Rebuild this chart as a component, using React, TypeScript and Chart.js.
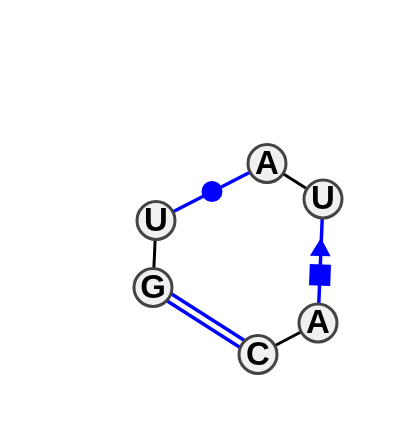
import React, { useEffect, useRef } from "react";
import { Chart, registerables } from "chart.js";

Chart.register(...registerables);

const nodeLabels = ["A", "U", "A", "C", "G", "U"];
const nodeX = [267, 323, 318, 258, 153, 156];
const nodeY = [163.5, 199, 323, 354.5, 287.5, 220.5];

// backbone pairs, indexes into the node lists
const backbonePairs = [
  [0, 1],
  [2, 3],
  [4, 5],
];

// blue interactions
const singleX = [156, 267];
const singleY = [220.5, 163.5];
const stackedX = [323, 318];
const stackedY = [199, 323];
const doubleUpperX = [156, 261];
const doubleUpperY = [284, 351];
const doubleLowerX = [150, 255];
const doubleLowerY = [290, 357];

const circleMark = [{ x: 212, y: 191.5 }];
const triangleMark = [{ x: 320.5, y: 250 }];
const squareMark = [{ x: 320, y: 275 }];

const BLUE = "#0000ff";

const toPoints = (xs: number[], ys: number[]) =>
  xs.map((x, i) => ({ x, y: ys[i] }));

const nodeText = {
  id: "nodeText",
  afterDatasetsDraw(chart: Chart) {
    const { ctx, scales } = chart;
    ctx.save();
    ctx.fillStyle = "#000";
    ctx.font = 'bold 33px "Liberation Sans", Arial, sans-serif';
    ctx.textAlign = "center";
    ctx.textBaseline = "middle";
    nodeLabels.forEach((label, i) => {
      ctx.fillText(label, scales.x.getPixelForValue(nodeX[i]), scales.y.getPixelForValue(nodeY[i]) + 1);
    });
    ctx.restore();
  },
};

const App: React.FC = () => {
  const canvasRef = useRef<HTMLCanvasElement>(null);

  useEffect(() => {
    if (!canvasRef.current) return;

    const line = (data: { x: number; y: number }[], color: string, width: number) => ({
      data,
      showLine: true,
      borderColor: color,
      borderWidth: width,
      pointRadius: 0,
      order: 3,
    });

    const marker = (data: { x: number; y: number }[], style: string, radius: number, rotation: number) => ({
      data,
      pointStyle: style,
      pointRadius: radius,
      pointRotation: rotation,
      backgroundColor: BLUE,
      borderColor: BLUE,
      borderWidth: 0,
      order: 2,
    });

    const chart = new Chart(canvasRef.current, {
      type: "scatter",
      data: {
        datasets: [
          ...backbonePairs.map(([a, b]) =>
            line(toPoints([nodeX[a], nodeX[b]], [nodeY[a], nodeY[b]]), "#000", 3),
          ),
          line(toPoints(singleX, singleY), BLUE, 3.5),
          line(toPoints(stackedX, stackedY), BLUE, 3.5),
          line(toPoints(doubleUpperX, doubleUpperY), BLUE, 3.5),
          line(toPoints(doubleLowerX, doubleLowerY), BLUE, 3.5),
          marker(circleMark, "circle", 10.5, 0),
          marker(triangleMark, "triangle", 12, 2),
          marker(squareMark, "rect", 15, 2),
          {
            data: toPoints(nodeX, nodeY),
            pointStyle: "circle",
            pointRadius: 19,
            backgroundColor: "#f0f0f0",
            borderColor: "#444444",
            borderWidth: 3,
            order: 1,
          },
        ],
      } as any,
      options: {
        responsive: false,
        animation: false,
        layout: { padding: 0, autoPadding: false },
        plugins: { legend: { display: false }, tooltip: { enabled: false } },
        scales: {
          x: { type: "linear", display: false, min: 0, max: 400 },
          y: { type: "linear", display: false, min: 0, max: 440, reverse: true },
        },
      },
      plugins: [nodeText],
    });

    return () => {
      chart.destroy();
    };
  }, []);

  return (
    <div style={{ position: "absolute", left: 0, top: 0, width: 400, height: 440 }}>
      <canvas ref={canvasRef} width={400} height={440} style={{ display: "block" }} />
    </div>
  );
};

export default App;
